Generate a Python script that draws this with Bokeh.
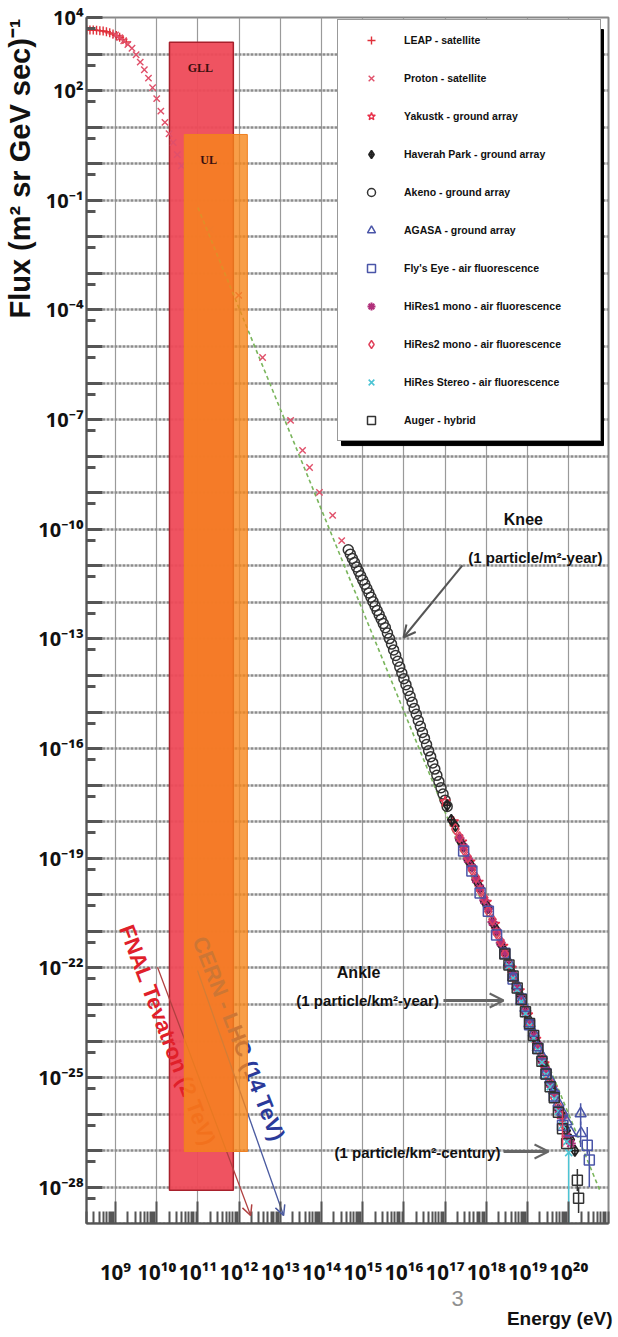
import numpy as np
from bokeh.plotting import figure
from bokeh.models import (Range1d, FixedTicker, Label, Arrow, OpenHead, Legend,
                          LegendItem, Title)
from bokeh.core.properties import value
from bokeh.embed import file_html
from bokeh.resources import INLINE

SANS = "'Liberation Sans', Arial, sans-serif"
TICKF = "'Noto Sans', 'DejaVu Sans', sans-serif"
SERIF = "'Liberation Serif', 'Times New Roman', serif"

# ---------------- data (log10 of energy in eV, log10 of flux) ----------------
leap_logE = [8.30, 8.38, 8.46, 8.54, 8.62, 8.70, 8.78, 8.86, 8.94, 9.02, 9.10, 9.18, 9.26]
leap_logF = [3.66, 3.66, 3.66, 3.65, 3.64, 3.63, 3.61, 3.58, 3.55, 3.51, 3.46, 3.40, 3.33]

proton_logE = [9.00, 9.10, 9.20, 9.30, 9.40, 9.50, 9.60, 9.70, 9.80, 9.90, 10.00, 10.10,
               10.20, 10.30, 10.40, 10.50, 10.60, 11.30, 11.99, 12.57, 13.25, 13.54,
               13.71, 13.95, 14.27, 14.49]
proton_logF = [3.52, 3.45, 3.36, 3.26, 3.16, 2.98, 2.78, 2.57, 2.34, 2.08, 1.78, 1.44,
               1.13, 0.82, 0.58, 0.25, -0.06, -1.80, -3.60, -5.30, -7.02, -7.84,
               -8.31, -8.99, -9.62, -10.31]

akeno_logE = [14.65, 14.70, 14.75, 14.80, 14.85, 14.90, 14.95, 15.00, 15.05, 15.10,
              15.15, 15.20, 15.25, 15.30, 15.35, 15.40, 15.45, 15.50, 15.55, 15.60,
              15.65, 15.70, 15.75, 15.80, 15.85, 15.90, 15.95, 16.00, 16.05, 16.10,
              16.15, 16.20, 16.25, 16.30, 16.35, 16.40, 16.45, 16.50, 16.55, 16.60,
              16.65, 16.70, 16.75, 16.80, 16.85, 16.90, 16.95, 17.00, 17.05]
akeno_logF = [-10.56, -10.68, -10.80, -10.91, -11.03, -11.15, -11.27, -11.39, -11.50, -11.62,
              -11.74, -11.86, -11.98, -12.10, -12.22, -12.34, -12.46, -12.58, -12.69, -12.84,
              -12.99, -13.14, -13.30, -13.45, -13.61, -13.77, -13.93, -14.09, -14.25, -14.41,
              -14.57, -14.73, -14.90, -15.06, -15.23, -15.39, -15.56, -15.72, -15.89, -16.06,
              -16.22, -16.39, -16.56, -16.73, -16.90, -17.07, -17.24, -17.41, -17.58]

yakutsk_logE = [17.00, 17.20, 17.40, 17.60, 17.80, 18.00, 18.20, 18.40, 18.60, 18.80,
                19.00, 19.20, 19.40, 19.60, 19.80, 20.00]
yakutsk_logF = [-17.45, -18.00, -18.55, -19.10, -19.65, -20.20, -20.80, -21.40, -22.00, -22.62,
                -23.28, -23.95, -24.62, -25.28, -26.00, -26.65]

haverah_logE = [17.05, 17.15, 17.25, 17.35, 17.45, 17.55, 17.65, 17.75, 17.85, 17.95, 18.05,
                18.15, 18.25, 18.35, 18.45, 18.55, 18.65, 18.75, 18.85, 18.95, 19.05, 19.15,
                19.25, 19.35, 19.45, 19.55, 19.65, 19.75, 19.85, 19.95, 20.05, 20.15]
haverah_logF = [-17.55, -17.95, -18.12, -18.50, -18.68, -19.05, -19.22, -19.60, -19.80, -20.18,
                -20.36, -20.76, -20.96, -21.35, -21.55, -21.95, -22.16, -22.58, -22.78, -23.22,
                -23.44, -23.88, -24.08, -24.55, -24.75, -25.20, -25.40, -25.88, -26.05, -26.45,
                -26.70, -27.00]

agasa_logE = [18.55, 18.65, 18.75, 18.85, 18.95, 19.05, 19.15, 19.25, 19.35, 19.45, 19.55,
              19.65, 19.75, 19.85, 19.95, 20.05, 20.29, 20.30]
agasa_logF = [-21.85, -22.25, -22.48, -22.90, -23.10, -23.52, -23.78, -24.18, -24.40, -24.85,
              -25.05, -25.35, -25.70, -25.95, -26.20, -26.50, -25.98, -26.52]

flyseye_logE = [17.45, 17.65, 17.85, 18.05, 18.25, 18.45, 18.65, 18.85, 19.05, 19.25, 19.45,
                19.65, 19.85, 20.45, 20.50]
flyseye_logF = [-18.80, -19.35, -19.95, -20.45, -21.10, -21.60, -22.30, -22.85, -23.55, -24.20,
                -24.90, -25.50, -26.30, -26.85, -27.25]

hires1_logE = [17.35, 17.45, 17.55, 17.65, 17.75, 17.85, 17.95, 18.05, 18.15, 18.25, 18.35,
               18.45, 18.55, 18.65, 18.75, 18.85, 18.95, 19.05, 19.15, 19.25, 19.35, 19.45,
               19.55, 19.65, 19.75, 19.85, 19.95, 20.05]
hires1_logF = [-18.45, -18.70, -19.02, -19.25, -19.58, -19.82, -20.15, -20.38, -20.74, -21.00,
               -21.31, -21.58, -21.93, -22.20, -22.55, -22.82, -23.20, -23.48, -23.86, -24.12,
               -24.52, -24.80, -25.18, -25.45, -25.86, -26.10, -26.60, -26.80]

hires2_logE = [17.25, 17.35, 17.45, 17.55, 17.65, 17.75, 17.85, 17.95, 18.05, 18.15, 18.25,
               18.35, 18.45, 18.55, 18.65, 18.75, 18.85, 18.95, 19.05, 19.15, 19.25, 19.35,
               19.45, 19.55, 19.65, 19.75, 19.85]
hires2_logF = [-18.20, -18.42, -18.76, -18.97, -19.31, -19.52, -19.88, -20.08, -20.45, -20.68,
               -21.05, -21.27, -21.62, -21.88, -22.25, -22.50, -22.90, -23.14, -23.55, -23.80,
               -24.22, -24.46, -24.88, -25.12, -25.55, -25.78, -26.25]

stereo_logE = [18.55, 18.65, 18.75, 18.85, 18.95, 19.05, 19.15, 19.25, 19.35, 19.45, 19.55,
               19.65, 19.75, 19.85, 19.95, 20.00]
stereo_logF = [-21.95, -22.28, -22.60, -22.92, -23.25, -23.58, -23.92, -24.25, -24.58, -24.92,
               -25.25, -25.58, -25.92, -26.30, -26.75, -27.05]

auger_logE = [18.45, 18.55, 18.65, 18.75, 18.85, 18.95, 19.05, 19.15, 19.25, 19.35, 19.45,
              19.55, 19.65, 19.75, 19.85, 19.95, 20.21, 20.24]
auger_logF = [-21.62, -21.92, -22.22, -22.55, -22.86, -23.20, -23.52, -23.85, -24.20, -24.55,
              -24.90, -25.25, -25.55, -25.95, -26.40, -26.80, -27.81, -28.30]

# error bars (log E, log F low, log F high) and their colours
err_logE = [20.29, 20.29, 20.45, 20.50, 20.00, 20.21, 20.24, 19.85]
err_logF_lo = [-26.30, -26.90, -27.10, -28.00, -29.60, -28.10, -28.70, -26.90]
err_logF_hi = [-25.70, -26.20, -26.35, -27.00, -27.05, -27.50, -28.00, -25.90]
err_colors = ["#4a55a8", "#4a55a8", "#4a55a8", "#4a55a8", "#4cc4d4", "#333333", "#333333", "#e0405a"]

# E^-2.75 reference line
dash_logE = [11.0, 20.75]
dash_logF = [-1.20, -28.07]

# GLL / UL bands
band_names = ["GLL", "UL"]
band_logE_lo = [10.31, 10.67]
band_logE_hi = [11.86, 12.20]
band_logF_top = [3.32, 0.80]
band_logF_bot = [-28.08, -27.02]

# accelerator arrows
acc_names = ["FNAL Tevatron (2 TeV)", "CERN - LHC (14 TeV)"]
acc_logE_start = [10.02, 10.99]
acc_logF_start = [-21.98, -22.07]
acc_logE_end = [12.28, 13.08]
acc_logF_end = [-28.77, -28.77]

x_exps = list(range(9, 21))
x_tick_labels = ["10⁹", "10¹⁰", "10¹¹", "10¹²", "10¹³", "10¹⁴", "10¹⁵", "10¹⁶",
                 "10¹⁷", "10¹⁸", "10¹⁹", "10²⁰"]
y_label_exps = [4, 2, -1, -4, -7, -10, -13, -16, -19, -22, -25, -28]
y_tick_labels = ["10⁴", "10²", "10⁻¹", "10⁻⁴", "10⁻⁷", "10⁻¹⁰", "10⁻¹³", "10⁻¹⁶",
                 "10⁻¹⁹", "10⁻²²", "10⁻²⁵", "10⁻²⁸"]


def P(a):
    return list(10.0 ** np.array(a, dtype=float))


p = figure(width=618, height=1337, x_axis_type="log", y_axis_type="log",
           x_range=Range1d(10 ** 8.296, 10 ** 20.966),
           y_range=Range1d(10 ** -28.99, 10 ** 4.0),
           output_backend="svg", toolbar_location=None,
           min_border_left=86, min_border_right=10, min_border_top=17,
           min_border_bottom=114)
p.background_fill_color = "white"
p.outline_line_color = "#888888"
p.outline_line_width = 2

# ticks
x_major = [10.0 ** k for k in range(8, 22)]
x_minor = [m * 10.0 ** k for k in range(8, 21) for m in range(2, 10)]
p.xaxis.ticker = FixedTicker(ticks=x_major, minor_ticks=x_minor)
y_major = [10.0 ** k for k in range(-29, 5)]
y_minor = [5 * 10.0 ** k for k in range(-30, 4)]
p.yaxis.ticker = FixedTicker(ticks=y_major, minor_ticks=y_minor)

x_over = {10.0 ** k: "" for k in range(8, 22)}
for k, lab in zip(x_exps, x_tick_labels):
    x_over[10.0 ** k] = lab
p.xaxis.major_label_overrides = x_over
y_over = {10.0 ** k: "" for k in range(-29, 5)}
for k, lab in zip(y_label_exps, y_tick_labels):
    y_over[10.0 ** k] = lab
p.yaxis.major_label_overrides = y_over

for ax in (p.xaxis[0], p.yaxis[0]):
    ax.axis_line_color = "#555555"
    ax.axis_line_width = 2
    ax.major_tick_out = 0
    ax.minor_tick_out = 0
    ax.major_tick_line_color = "#555555"
    ax.minor_tick_line_color = "#555555"
    ax.major_label_text_font = TICKF
    ax.major_label_text_font_style = "bold"
    ax.major_label_text_color = "#111111"

p.xaxis.major_label_text_font_size = "20.5px"
p.yaxis.major_label_text_font_size = "20px"
p.yaxis.major_tick_in = 16
p.yaxis.minor_tick_in = 9
p.yaxis.major_tick_line_width = 3
p.yaxis.minor_tick_line_width = 3
p.yaxis.major_label_standoff = 3
p.xaxis.major_tick_in = 22
p.xaxis.minor_tick_in = 12
p.xaxis.major_tick_line_width = 2
p.xaxis.minor_tick_line_width = 2
p.xaxis.major_label_standoff = 34

p.ygrid.grid_line_color = "#8c8c8c"
p.ygrid.grid_line_width = 2.5
p.ygrid.grid_line_dash = "3 1"
p.xgrid.grid_line_color = "#9a9a9a"
p.xgrid.grid_line_width = 1.2

# axis titles (outside the frame)
p.add_layout(Title(text="Flux (m² sr GeV sec)⁻¹", align="right", offset=1, standoff=0,
                   text_font=SANS, text_font_style="bold", text_font_size="29px",
                   text_color="#111111"), "left")
p.add_layout(Title(text="3", align="left", offset=365, standoff=0, text_font=SANS,
                   text_font_style="normal", text_font_size="22px", text_color="#909090"),
             "below")
p.add_layout(Title(text="Energy (eV)", align="right", offset=-4, standoff=0, text_font=SANS,
                   text_font_style="bold", text_font_size="19px", text_color="#111111"),
             "below")

# GLL band (below data)
p.quad(left=P(band_logE_lo[:1]), right=P(band_logE_hi[:1]), top=P(band_logF_top[:1]),
       bottom=P(band_logF_bot[:1]), fill_color="#ee4a58", fill_alpha=0.95,
       line_color="#a8202c", line_width=1.5)

# reference line
p.line(P(dash_logE), P(dash_logF), line_color="#7ab55c", line_width=1.6, line_dash="4 3")

red = "#e0303a"
r_leap = p.scatter(P(leap_logE), P(leap_logF), marker="cross", size=9, line_color=red, line_width=1.4)
r_proton = p.scatter(P(proton_logE), P(proton_logF), marker="x", size=9, line_color="#e0506a", line_width=1.4)
r_akeno = p.scatter(P(akeno_logE), P(akeno_logF), marker="circle", size=10, fill_alpha=0,
                    line_color="#333333", line_width=1.5)
r_yak = p.scatter(P(yakutsk_logE), P(yakutsk_logF), marker="star", size=11, fill_alpha=0,
                  line_color="#e8304a", line_width=1.4)
r_hav = p.scatter(P(haverah_logE), P(haverah_logF), marker="diamond_cross", size=11, fill_alpha=0,
                  line_color="#222222", line_width=1.6)
r_hr1 = p.scatter(P(hires1_logE), P(hires1_logF), marker="asterisk", size=10,
                  line_color="#b0307a", line_width=2)
r_hr2 = p.scatter(P(hires2_logE), P(hires2_logF), marker="diamond", size=11, fill_alpha=0,
                  line_color="#e0405a", line_width=1.4)
r_st = p.scatter(P(stereo_logE), P(stereo_logF), marker="x", size=10,
                 line_color="#4cc4d4", line_width=1.6)
r_aga = p.scatter(P(agasa_logE), P(agasa_logF), marker="triangle", size=11, fill_alpha=0,
                  line_color="#4a55a8", line_width=1.5)
r_fly = p.scatter(P(flyseye_logE), P(flyseye_logF), marker="square", size=10, fill_alpha=0,
                  line_color="#4a55a8", line_width=1.5)
r_aug = p.scatter(P(auger_logE), P(auger_logF), marker="square", size=10, fill_alpha=0,
                  line_color="#333333", line_width=1.5)
p.segment(x0=P(err_logE), y0=P(err_logF_lo), x1=P(err_logE), y1=P(err_logF_hi),
          line_color=err_colors, line_width=1.5)

# accelerator texts and arrow shafts (under the UL band)
acc_colors = ["#e0202a", "#2a3a9a"]
acc_line_colors = ["#b04040", "#4a5aa0"]
p.segment(x0=P(acc_logE_start), y0=P(acc_logF_start), x1=P(acc_logE_end), y1=P(acc_logF_end),
          line_color=acc_line_colors, line_width=1.3)
acc_text_logE = [10.26, 11.99]
acc_text_logF = [-23.84, -23.93]
acc_angle = [-69.2 * np.pi / 180, -68.5 * np.pi / 180]
p.text(x=P(acc_text_logE), y=P(acc_text_logF), text=acc_names, angle=acc_angle,
       text_color=acc_colors, text_font=value(SANS), text_font_style="bold",
       text_font_size="22px", text_align="center", text_baseline="middle")

# UL band (translucent, over data)
p.quad(left=P(band_logE_lo[1:]), right=P(band_logE_hi[1:]), top=P(band_logF_top[1:]),
       bottom=P(band_logF_bot[1:]), fill_color="#f6861a", fill_alpha=0.8,
       line_color="#f08020", line_width=1)

p.text(x=P([11.06, 11.26]), y=P([2.61, 0.09]), text=band_names, text_color="#3a1010",
       text_font=value(SERIF), text_font_style="bold", text_font_size="12px",
       text_align="center", text_baseline="middle")

for i in range(2):
    p.add_layout(Arrow(end=OpenHead(size=10, line_color=acc_line_colors[i], line_width=1.5),
                       x_start=10 ** (acc_logE_end[i] - 0.05), y_start=10 ** (acc_logF_end[i] + 0.15),
                       x_end=10 ** acc_logE_end[i], y_end=10 ** acc_logF_end[i],
                       line_alpha=0))

# annotations
def lab(x, y, t, size="15px", align="center"):
    p.add_layout(Label(x=10 ** x, y=10 ** y, text=t, text_font=SANS, text_font_style="bold",
                       text_font_size=size, text_align=align, text_baseline="middle",
                       text_color="#111111"))

lab(18.90, -9.73, "Knee", size="16px")
lab(19.19, -10.77, "(1 particle/m²-year)")
lab(14.90, -22.12, "Ankle", size="16px")
lab(15.12, -22.89, "(1 particle/km²-year)")
lab(16.33, -27.04, "(1 particle/km²-century)")

p.add_layout(Arrow(end=OpenHead(size=12, line_color="#555555", line_width=2),
                   x_start=10 ** 17.42, y_start=10 ** -10.99, x_end=10 ** 15.99, y_end=10 ** -12.96,
                   line_color="#555555", line_width=2))
p.add_layout(Arrow(end=OpenHead(size=14, line_color="#666666", line_width=2),
                   x_start=10 ** 16.96, y_start=10 ** -22.89, x_end=10 ** 18.42, y_end=10 ** -22.89,
                   line_color="#666666", line_width=3))
p.add_layout(Arrow(end=OpenHead(size=14, line_color="#666666", line_width=2),
                   x_start=10 ** 18.42, y_start=10 ** -27.02, x_end=10 ** 19.51, y_end=10 ** -27.02,
                   line_color="#666666", line_width=3))

# legend shadow
p.quad(left=[10 ** 14.485], right=[10 ** 20.845], top=[10 ** 3.67], bottom=[10 ** -7.71],
       fill_color="black", line_color="black")

items = [
    LegendItem(label="LEAP - satellite", renderers=[r_leap]),
    LegendItem(label="Proton - satellite", renderers=[r_proton]),
    LegendItem(label="Yakustk - ground array", renderers=[r_yak]),
    LegendItem(label="Haverah Park - ground array", renderers=[r_hav]),
    LegendItem(label="Akeno - ground array", renderers=[r_akeno]),
    LegendItem(label="AGASA - ground array", renderers=[r_aga]),
    LegendItem(label="Fly's Eye - air fluorescence", renderers=[r_fly]),
    LegendItem(label="HiRes1 mono - air fluorescence", renderers=[r_hr1]),
    LegendItem(label="HiRes2 mono - air fluorescence", renderers=[r_hr2]),
    LegendItem(label="HiRes Stereo - air fluorescence", renderers=[r_st]),
    LegendItem(label="Auger - hybrid", renderers=[r_aug]),
]
legend = Legend(items=items, location=(251, 782), padding=10, margin=0, spacing=18,
                glyph_width=46, glyph_height=20, label_height=20, label_width=186,
                label_standoff=10, label_text_font=SANS, label_text_font_style="bold",
                label_text_font_size="10.5px", label_text_color="#111111",
                border_line_color="#333333", border_line_width=1.5,
                background_fill_color="white", background_fill_alpha=1)
p.add_layout(legend)

open("out.html", "w").write(file_html(p, INLINE))
